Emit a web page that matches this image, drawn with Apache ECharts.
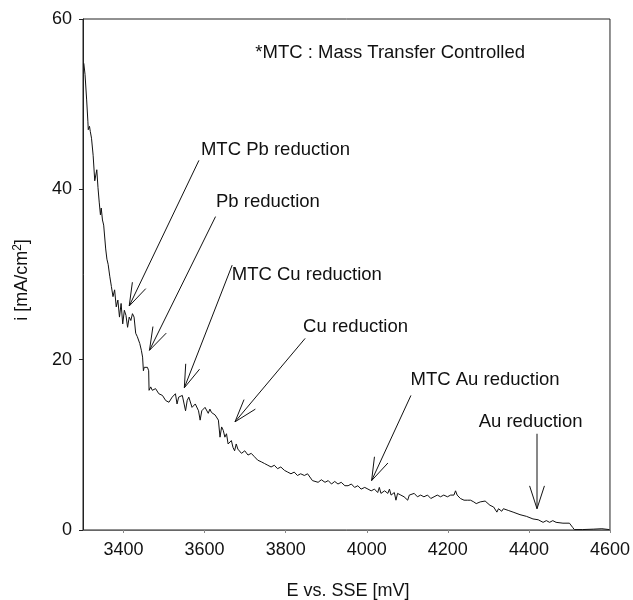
<!DOCTYPE html>
<html>
<head>
<meta charset="utf-8">
<script src="https://cdn.jsdelivr.net/npm/echarts@6/dist/echarts.min.js"></script>
<style>
html,body{margin:0;padding:0;background:#fff;}
#chart{width:633px;height:600px;}
</style>
</head>
<body>
<div id="chart"></div>
<script>
// Potential E (mV vs SSE)
var potential = [3302,3305,3309,3312,3313,3316,3318,3321,3325,3329,3331,3334,3337,3340,3343,3345,3348,3351,3356,3359,3362,3366,3370,3374,3378,3382,3386,3390,3394,3398,3402,3406,3410,3414,3418,3422,3426,3430,3434,3440,3444,3447,3449,3451,3455,3459,3462,3463,3467,3471,3479,3487,3496,3504,3508,3512,3520,3528,3532,3536,3545,3553,3557,3561,3569,3577,3585,3589,3593,3601,3609,3613,3617,3626,3630,3634,3638,3642,3646,3650,3654,3658,3666,3670,3674,3678,3682,3691,3699,3707,3715,3723,3731,3740,3748,3756,3764,3772,3780,3788,3797,3805,3813,3821,3829,3837,3846,3854,3866,3880,3888,3897,3905,3913,3921,3929,3937,3946,3954,3962,3970,3978,3986,3995,4003,4011,4019,4027,4031,4035,4044,4052,4056,4060,4068,4072,4076,4084,4092,4101,4105,4109,4117,4125,4133,4141,4150,4158,4166,4174,4182,4190,4199,4207,4215,4219,4223,4231,4240,4248,4256,4264,4270,4280,4292,4304,4313,4321,4325,4333,4337,4349,4361,4378,4394,4410,4423,4435,4443,4451,4459,4467,4484,4500,4508,4512,4532,4560,4580,4598];
// Current density i (mA/cm2)
var current = [54.8,53.5,50.5,48.0,47.0,47.4,46.8,46.0,44.0,41.0,40.8,42.3,40.2,38.5,37.0,37.8,36.4,35.8,33.0,31.8,31.2,29.8,28.6,27.4,28.2,26.2,27.0,25.0,26.6,24.2,25.8,25.2,23.8,25.0,24.6,25.4,25.0,23.1,22.7,21.9,21.1,20.3,18.7,19.1,19.3,19.1,18.7,16.4,16.8,16.4,16.6,16.0,15.8,15.2,15.4,15.0,15.6,16.0,14.8,15.6,15.8,14.0,15.2,15.6,14.4,14.8,14.0,12.9,14.0,14.4,13.7,14.2,13.8,13.5,13.3,12.9,10.9,12.1,11.7,10.9,11.3,10.1,10.5,9.7,9.3,10.1,9.5,9.0,9.3,8.8,9.0,8.6,8.2,8.0,7.8,7.6,7.4,7.6,7.2,7.4,7.0,6.8,6.6,6.8,6.4,6.6,6.4,6.6,5.8,5.6,5.9,5.6,5.8,5.4,5.7,5.4,5.6,5.2,5.2,5.4,5.0,5.2,4.8,5.0,4.8,4.6,4.8,4.4,5.0,4.3,4.6,4.3,4.8,4.1,4.4,3.5,4.3,4.1,3.9,3.5,4.1,3.9,4.3,3.9,4.1,3.9,4.1,3.7,3.9,4.1,3.9,4.1,3.9,4.1,4.1,4.6,4.1,3.7,3.5,3.5,3.5,3.3,3.1,3.3,3.4,2.9,2.7,2.1,2.5,2.2,2.5,2.3,2.1,1.8,1.6,1.3,1.2,0.9,1.1,0.9,1.1,0.9,0.8,0.8,0.3,0.05,0.05,0.1,0.15,0.05];

var xTicks = [3400,3600,3800,4000,4200,4400,4600];
var yTicks = [0,20,40,60];

// Annotation texts anchored at (E, i) = left/middle of text
var noteTexts = ['*MTC : Mass Transfer Controlled','MTC Pb reduction','Pb reduction','MTC Cu reduction','Cu reduction','MTC Au reduction','Au reduction'];
var noteE = [3725,3591,3628,3667,3843,4108,4276];
var noteI = [56.0,44.6,38.5,30.0,23.8,17.6,12.7];

// Arrows: tail (E,i) -> tip (E,i)
var arrowTailE = [3586,3627,3668,3848,4109,4420];
var arrowTailI = [43.4,36.8,31.1,22.5,15.8,11.3];
var arrowTipE  = [3414,3464,3550,3675,4012,4420];
var arrowTipI  = [26.3,21.1,16.7,12.7,5.8,2.5];

var FONT = '"Liberation Sans", Arial, sans-serif';
var INK = '#111';

var curve = potential.map(function(e,k){return [e,current[k]];});
var notes = noteTexts.map(function(t,k){return [noteE[k],noteI[k],t];});
var arrows = arrowTailE.map(function(e,k){return [e,arrowTailI[k],arrowTipE[k],arrowTipI[k]];});

var chart = echarts.init(document.getElementById('chart'), null, {renderer:'canvas'});
chart.setOption({
  animation:false,
  backgroundColor:'#fff',
  grid:{left:83,right:19,top:19,bottom:70,show:true,borderColor:'#222',borderWidth:1,backgroundColor:'transparent'},
  xAxis:{
    type:'value',min:3300,max:4600,
    axisLine:{show:true,lineStyle:{color:'#666',width:1}},
    axisTick:{show:true,length:3,lineStyle:{color:'#888'},customValues:xTicks},
    axisLabel:{customValues:xTicks,margin:11,color:INK,fontSize:18,fontFamily:FONT,formatter:function(v){return String(v);}},
    splitLine:{show:false}
  },
  yAxis:{
    type:'value',min:0,max:60,interval:20,
    axisLine:{show:true,lineStyle:{color:'#222',width:1}},
    axisTick:{show:true,length:4,lineStyle:{color:'#222'}},
    axisLabel:{margin:11,color:INK,fontSize:18,fontFamily:FONT,formatter:function(v){return String(v);}},
    splitLine:{show:false}
  },
  graphic:[
    {type:'text',x:348,y:591,style:{text:'E vs. SSE [mV]',font:'18px '+FONT,fill:INK,textAlign:'center',textVerticalAlign:'middle'}},
    {type:'text',x:22,y:280,rotation:Math.PI/2,style:{
      text:'i [mA/cm{sup|2}]',
      rich:{sup:{fontSize:12,verticalAlign:'top',padding:[0,0,8,0],fontFamily:FONT,fill:INK}},
      font:'18px '+FONT,fill:INK,align:'center',verticalAlign:'middle'}}
  ],
  series:[
    {type:'line',data:curve,showSymbol:false,symbol:'none',lineStyle:{color:'#111',width:1},smooth:false,z:3},
    {type:'custom',clip:false,data:arrows,z:4,
     renderItem:function(params,api){
       var a=api.coord([api.value(0),api.value(1)]);
       var b=api.coord([api.value(2),api.value(3)]);
       var dx=a[0]-b[0],dy=a[1]-b[1];
       var ang=Math.atan2(dy,dx);
       var L=24,h=18*Math.PI/180;
       var p1=[b[0]+L*Math.cos(ang+h),b[1]+L*Math.sin(ang+h)];
       var p2=[b[0]+L*Math.cos(ang-h),b[1]+L*Math.sin(ang-h)];
       var st={stroke:'#111',lineWidth:1,fill:null};
       return {type:'group',children:[
         {type:'line',shape:{x1:a[0],y1:a[1],x2:b[0],y2:b[1]},style:st},
         {type:'polyline',shape:{points:[p1,b,p2]},style:st}
       ]};
     }},
    {type:'custom',clip:false,data:notes,z:5,
     renderItem:function(params,api){
       var p=api.coord([api.value(0),api.value(1)]);
       return {type:'text',x:p[0],y:p[1],style:{text:notes[params.dataIndex][2],font:'18.5px '+FONT,fill:INK,textAlign:'left',textVerticalAlign:'middle'}};
     }}
  ]
});
</script>
</body>
</html>
